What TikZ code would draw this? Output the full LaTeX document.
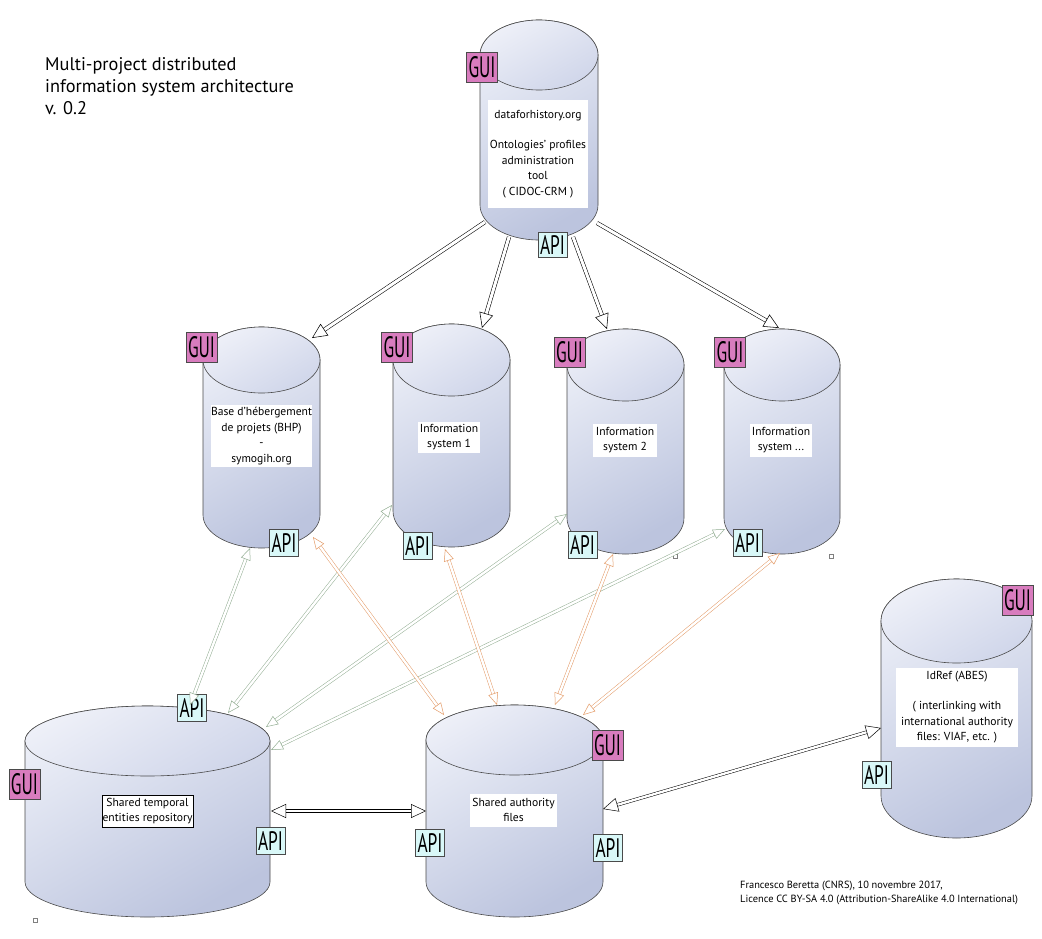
\documentclass[tikz,border=0pt]{standalone}
\usepackage{fontspec}
\setmainfont{PT Sans}
\usepackage{graphicx}
\usetikzlibrary{arrows.meta,calc}
\definecolor{cylL}{HTML}{EBEEF7}
\definecolor{cylD}{HTML}{BCC4DE}
\definecolor{lidL}{HTML}{EEF0F8}
\definecolor{lidD}{HTML}{D0D6EA}
\definecolor{guiC}{HTML}{D87CBE}
\definecolor{apiC}{HTML}{D9F8F8}
\definecolor{grnA}{HTML}{93AE93}
\definecolor{orgA}{HTML}{E49A66}
\definecolor{edgeC}{HTML}{4A4A4A}
\newcommand\mycyl[6]{%
 \pgfmathsetmacro\cylrx{(#3-#2)/2}%
 \pgfmathsetmacro\cylcx{(#3+#2)/2}%
 \path[body] (#2,#4) -- (#2,#5) arc[start angle=180,end angle=360,x radius=\cylrx pt,y radius=#6pt] -- (#3,#4) arc[start angle=0,end angle=180,x radius=\cylrx pt,y radius=#6pt] -- cycle;
 \path[lid] (\cylcx,#4) ellipse[x radius=\cylrx pt, y radius=#6pt];
 \coordinate (#1) at (\cylcx,#5);
}
% single-headed double arrow: color, from, to, tip length, tip width
\newcommand\sarr[5]{%
 \draw[draw=#1, double=white, double distance=3pt, line width=0.55pt, shorten >=#4] (#2) -- (#3);
 \draw[white, line width=0.55pt, -{Triangle[color=#1, fill=white, length=#4, width=#5]}] ($(#3)!20pt!(#2)$) -- (#3);
}
% double-headed
\newcommand\darr[5]{%
 \draw[draw=#1, double=white, double distance=2.4pt, line width=0.5pt, shorten >=#4, shorten <=#4] (#2) -- (#3);
 \draw[white, line width=0.5pt, -{Triangle[color=#1, fill=white, length=#4, width=#5]}] ($(#3)!18pt!(#2)$) -- (#3);
 \draw[white, line width=0.5pt, -{Triangle[color=#1, fill=white, length=#4, width=#5]}] ($(#2)!18pt!(#3)$) -- (#2);
}
\newcommand\guitxt{\resizebox{27pt}{21pt}{GUI}}
\newcommand\apitxt{\resizebox{25pt}{19pt}{API}}
\begin{document}
\begin{tikzpicture}[x=1pt,y=-1pt,
  body/.style={draw=edgeC, line width=0.6pt, top color=cylL, bottom color=cylD, shading angle=30},
  lid/.style={draw=edgeC, line width=0.6pt, top color=lidL, bottom color=lidD, shading angle=30},
  tbox/.style={fill=white, inner sep=0pt, align=center, font=\fontsize{11.6}{15.5}\selectfont},
  gui/.style={draw=edgeC, fill=guiC, line width=0.5pt, inner sep=0pt, minimum width=31pt, minimum height=30pt},
  api/.style={draw=edgeC, fill=apiC, line width=0.5pt, inner sep=0pt, minimum width=29pt, minimum height=27pt},
  mark sq/.style={draw=gray, fill=white, line width=0.4pt, minimum size=4pt, inner sep=0pt},
]
\useasboundingbox[fill=white] (0,0) rectangle (1042,938);

% title and footer
\node[anchor=north west, align=left, inner sep=0pt, font=\fontsize{18.3}{22}\selectfont] (title) at (45,57)
 {Multi-project distributed\\information system architecture\\v. 0.2};
\node[anchor=north west, align=left, inner sep=0pt, font=\fontsize{10.4}{13.5}\selectfont] (foot) at (740,881)
 {Francesco Beretta (CNRS), 10 novembre 2017,\\Licence CC BY-SA 4.0 (Attribution-ShareAlike 4.0 International)};

% cylinders
\mycyl{dfh}{480}{598}{55}{205}{35}
\mycyl{bhp}{203}{320}{360}{515}{33}
\mycyl{is1}{393}{510}{360}{511}{36}
\mycyl{is2}{567}{684}{365}{518}{36}
\mycyl{isn}{724}{840}{365}{518}{36}
\mycyl{ster}{25}{270}{741}{882}{35}
\mycyl{saf}{426}{603}{740}{882}{35}
\mycyl{idref}{881}{1032}{621}{796}{42}

% text boxes
\node[tbox, minimum width=100pt, minimum height=108pt] (dfh-t) at (538,154)
 {dataforhistory.org\\[15pt]Ontologies' profiles\\administration\\tool\\( CIDOC-CRM )};
\node[tbox, minimum width=101pt, minimum height=62pt] (bhp-t) at (261.5,436)
 {Base d'hébergement\\de projets (BHP)\\-\\symogih.org};
\node[tbox, minimum width=62pt, minimum height=31pt] (is1-t) at (449,437) {Information\\system 1};
\node[tbox, minimum width=64pt, minimum height=33pt] (is2-t) at (625,440) {Information\\system 2};
\node[tbox, minimum width=62pt, minimum height=33pt] (isn-t) at (781,440) {Information\\system ...};
\node[tbox, draw=black, line width=0.5pt, minimum width=91pt, minimum height=32pt] (ster-t) at (147.5,811)
 {Shared temporal\\entities repository};
\node[tbox, minimum width=87pt, minimum height=33pt] (saf-t) at (513.5,810) {Shared authority\\files};
\node[tbox, minimum width=122pt, minimum height=79pt] (idref-t) at (957,707)
 {IdRef (ABES)\\[15pt]( interlinking with\\international authority\\files: VIAF, etc. )};

% GUI / API boxes
\node[gui] (dfh-gui) at (482,67) {\guitxt};
\node[api, minimum height=25pt] (dfh-api) at (552.5,244.5) {\apitxt};
\node[gui] (bhp-gui) at (201.5,347) {\guitxt};
\node[api] (bhp-api) at (284,542.5) {\apitxt};
\node[gui] (is1-gui) at (397,347.5) {\guitxt};
\node[api] (is1-api) at (417.5,545.5) {\apitxt};
\node[gui] (is2-gui) at (569.5,352.5) {\guitxt};
\node[api] (is2-api) at (582.5,544.5) {\apitxt};
\node[gui] (isn-gui) at (730,352.5) {\guitxt};
\node[api] (isn-api) at (747.5,543) {\apitxt};
\node[gui] (ster-gui) at (24.5,784) {\guitxt};
\node[api] (ster-api1) at (192,708) {\apitxt};
\node[api] (ster-api2) at (270.5,841) {\apitxt};
\node[gui] (saf-gui) at (607.5,745) {\guitxt};
\node[api] (saf-api1) at (430,842.5) {\apitxt};
\node[api] (saf-api2) at (608,848) {\apitxt};
\node[gui] (idref-gui) at (1017.5,600) {\guitxt};
\node[api] (idref-api) at (876.5,775) {\apitxt};

% small markers
\node[mark sq] (m1) at (675,556) {};
\node[mark sq] (m2) at (831,556) {};
\node[mark sq] (m3) at (35,920) {};

% connector end points
\coordinate (dfh-o1) at (485,222);
\coordinate (dfh-o2) at (509,237);
\coordinate (dfh-o3) at (573,237);
\coordinate (dfh-o4) at (597,223);
\coordinate (bhp-i) at (312,338);
\coordinate (is1-i) at (482,328);
\coordinate (is2-i) at (607,329);
\coordinate (isn-i) at (779,328);

\coordinate (bhp-g) at (250,548);
\coordinate (is1-g) at (392,505);
\coordinate (is2-g) at (567,514);
\coordinate (isn-g) at (725,529);
\coordinate (ster-g1) at (190,705);
\coordinate (ster-g2) at (228,713);
\coordinate (ster-g3) at (266,727);
\coordinate (ster-g4) at (271,750);

\coordinate (bhp-o) at (313,537);
\coordinate (is1-o) at (445,549);
\coordinate (is2-o) at (613,554);
\coordinate (isn-o) at (780,553);
\coordinate (saf-o1) at (444,715);
\coordinate (saf-o2) at (497,705);
\coordinate (saf-o3) at (555,705);
\coordinate (saf-o4) at (583,715);

\coordinate (ster-r) at (271,811);
\coordinate (saf-l) at (426,811);
\coordinate (saf-r) at (603,809);
\coordinate (idref-l) at (881,728);

% connectors
\sarr{black}{dfh-o1}{bhp-i}{15pt}{14pt}
\sarr{black}{dfh-o2}{is1-i}{15pt}{14pt}
\sarr{black}{dfh-o3}{is2-i}{15pt}{14pt}
\sarr{black}{dfh-o4}{isn-i}{15pt}{14pt}

\darr{grnA}{bhp-g}{ster-g1}{12pt}{10pt}
\darr{grnA}{is1-g}{ster-g2}{12pt}{10pt}
\darr{grnA}{is2-g}{ster-g3}{12pt}{10pt}
\darr{grnA}{isn-g}{ster-g4}{12pt}{10pt}

\darr{orgA}{bhp-o}{saf-o1}{12pt}{10pt}
\darr{orgA}{is1-o}{saf-o2}{12pt}{10pt}
\darr{orgA}{is2-o}{saf-o3}{12pt}{10pt}
\darr{orgA}{isn-o}{saf-o4}{12pt}{10pt}

\darr{black}{ster-r}{saf-l}{15pt}{14pt}
\darr{black}{saf-r}{idref-l}{15pt}{14pt}
\end{tikzpicture}
\end{document}
